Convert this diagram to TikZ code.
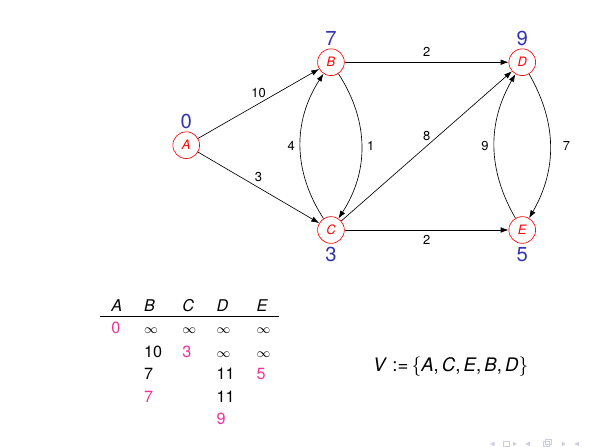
\documentclass[tikz,border=0pt]{standalone}
\usepackage{fontspec}
\setmainfont{TeX Gyre Heros}
\usepackage{tikz}
\usetikzlibrary{
    arrows.meta,
    positioning
}
\definecolor{distblue}{RGB}{51,51,178}
\definecolor{donepink}{RGB}{240,50,150}
\definecolor{navgray}{RGB}{205,205,225}
\newcommand{\inft}{{\fontsize{8.5}{10}\selectfont$\infty$}}
\tikzset{
    vertex/.style={circle, draw=red, text=red, minimum size=5.8mm, inner sep=0pt,
        font=\fontsize{8}{9}\selectfont\itshape},
    dist/.style={text=distblue, inner sep=1pt, font=\fontsize{12.5}{14}\selectfont},
    weight/.style={font=\fontsize{8}{9}\selectfont},
    edge/.style={-{Latex[length=1.7mm,width=1.2mm]}},
    cell/.style={anchor=base west, inner sep=0pt, font=\fontsize{10}{12}\selectfont},
    donecell/.style={cell, text=donepink},
}

\begin{document}
\begin{tikzpicture}
    \useasboundingbox (0,0) rectangle (12.8,9.68);
    % graph
    \node[vertex] (A) at (4.04,6.53) {A};
    \node[vertex] (B) at (7.18,8.33) {B};
    \node[vertex] (C) at (7.18,4.69) {C};
    \node[vertex] (D) at (11.33,8.33) {D};
    \node[vertex] (E) at (11.33,4.69) {E};
    % final distances
    \node[dist, above=0.2mm of A] (dA) {0};
    \node[dist, above=0.2mm of B] (dB) {7};
    \node[dist, below=0.4mm of C] (dC) {3};
    \node[dist, above=0.2mm of D] (dD) {9};
    \node[dist, below=0.4mm of E] (dE) {5};
    % edges
    \draw[edge] (A) -- node[weight, above] {10} (B);
    \draw[edge] (A) -- node[weight, above] {3} (C);
    \draw[edge] (B) -- node[weight, above] {2} (D);
    \draw[edge] (C) -- node[weight, below] {2} (E);
    \draw[edge] (C) -- node[weight, above] {8} (D);
    \draw[edge] (B) to[bend left=33] node[weight, right] {1} (C);
    \draw[edge] (C) to[bend left=33] node[weight, left] {4} (B);
    \draw[edge] (D) to[bend left=30] node[weight, right=1.5mm] {7} (E);
    \draw[edge] (E) to[bend left=30] node[weight, left] {9} (D);

    % table of tentative distances
    \foreach \c/\x in {A/2.41,B/3.12,C/3.95,D/4.69,E/5.56}
        \node[cell, font=\fontsize{10}{12}\selectfont\itshape] (h\c) at (\x,2.93) {\c};
    \draw (2.17,2.81) -- (6.06,2.81);
    % row 1
    \node[donecell] (r1A) at (2.41,2.45) {0};
    \foreach \c/\x in {B/3.12,C/3.95,D/4.69,E/5.56}
        \node[cell] (r1\c) at (\x,2.45) {\inft};
    % row 2
    \node[cell] (r2B) at (3.12,1.93) {10};
    \node[donecell] (r2C) at (3.95,1.93) {3};
    \node[cell] (r2D) at (4.69,1.93) {\inft};
    \node[cell] (r2E) at (5.56,1.93) {\inft};
    % row 3
    \node[cell] (r3B) at (3.12,1.45) {7};
    \node[cell] (r3D) at (4.69,1.45) {11};
    \node[donecell] (r3E) at (5.56,1.45) {5};
    % row 4
    \node[donecell] (r4B) at (3.12,0.95) {7};
    \node[cell] (r4D) at (4.69,0.95) {11};
    % row 5
    \node[donecell] (r5D) at (4.69,0.46) {9};

    % visited set
    \node[anchor=base west, inner sep=0pt, font=\fontsize{11.5}{13}\selectfont] (visited) at (8.09,1.61)
        {\textit{V}\;:=\,$\{$\textit{A},\,\textit{C},\,\textit{E},\,\textit{B},\,\textit{D}$\}$};

    % navigation symbols
    \begin{scope}[navgray]
        \fill (10.63,0.05) -- (10.73,0.10) -- (10.73,0.00) -- cycle;
        \draw (10.93,0.00) rectangle (11.05,0.10);
        \fill (11.21,0.05) -- (11.13,0.10) -- (11.13,0.00) -- cycle;
        \fill (11.40,0.05) -- (11.50,0.10) -- (11.50,0.00) -- cycle;
        \draw (11.78,0.00) rectangle (11.92,0.10);
        \draw (11.82,0.04) rectangle (11.96,0.14);
        \fill (12.27,0.05) -- (12.19,0.10) -- (12.19,0.00) -- cycle;
        \fill (12.46,0.05) -- (12.56,0.10) -- (12.56,0.00) -- cycle;
    \end{scope}
\end{tikzpicture}
\end{document}
